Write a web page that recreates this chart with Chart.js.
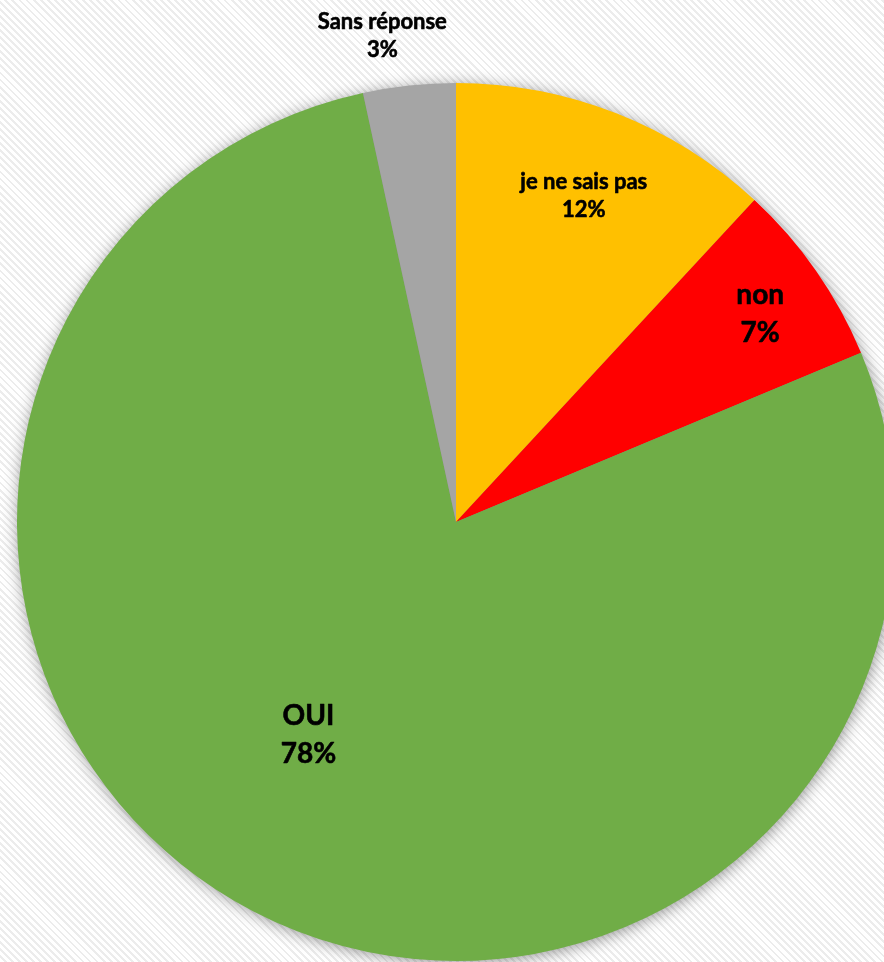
<!DOCTYPE html>
<html>
<head>
<meta charset="utf-8">
<script src="https://cdn.jsdelivr.net/npm/chart.js@4"></script>
<style>
  html, body { margin: 0; padding: 0; width: 884px; height: 962px; overflow: hidden; }
  body {
    background-color: #ffffff;
    background-image: repeating-linear-gradient(45deg, #ffffff 0px, #ffffff 3px, #ececec 3px, #ececec 5px);
  }
  #wrap { position: absolute; left: 0; top: 0; width: 900px; height: 962px; }
</style>
</head>
<body>
<div id="wrap"><canvas id="pie-chart" width="900" height="962"></canvas></div>
<script>
const labels = ["je ne sais pas", "non", "OUI", "Sans réponse"];
const values = [11.9, 6.8, 77.9, 3.4];
const percentLabels = ["12%", "7%", "78%", "3%"];
const colors = ["#FFC000", "#FF0000", "#70AD47", "#A5A5A5"];

// label placement: font size, radius fraction, angle tweak (deg), line gap
const labelStyle = [
  { size: 22, r: 0.797, da: 0, lh: 28 },
  { size: 28, r: 0.84, da: 0.5, lh: 38 },
  { size: 28, r: 0.59, da: 7.2, lh: 38 },
  { size: 22, r: 1.12, da: -2.5, lh: 28 },
];

const shadowPlugin = {
  id: "shadow",
  beforeDatasetsDraw(chart) {
    const arc = chart.getDatasetMeta(0).data[0];
    if (!arc) return;
    const { x, y, outerRadius } = arc.getProps(["x", "y", "outerRadius"], true);
    const ctx = chart.ctx;
    ctx.save();
    ctx.shadowColor = "rgba(0,0,0,0.45)";
    ctx.shadowBlur = 16;
    ctx.shadowOffsetX = 1;
    ctx.shadowOffsetY = 2;
    ctx.fillStyle = "#888";
    ctx.beginPath();
    ctx.arc(x, y, outerRadius - 1, 0, Math.PI * 2);
    ctx.fill();
    ctx.restore();
  },
};

const labelPlugin = {
  id: "sliceLabels",
  afterDatasetsDraw(chart) {
    const ctx = chart.ctx;
    chart.getDatasetMeta(0).data.forEach((arc, i) => {
      const p = arc.getProps(["x", "y", "startAngle", "endAngle", "outerRadius"], true);
      const st = labelStyle[i];
      const a = (p.startAngle + p.endAngle) / 2 + (st.da * Math.PI) / 180;
      const cx = p.x + Math.cos(a) * p.outerRadius * st.r;
      const cy = p.y + Math.sin(a) * p.outerRadius * st.r;
      ctx.save();
      ctx.fillStyle = "#000";
      ctx.strokeStyle = "#000";
      ctx.lineWidth = 0.6;
      ctx.lineJoin = "round";
      ctx.font = `bold ${st.size}px Lato, "Open Sans", sans-serif`;
      ctx.textAlign = "center";
      ctx.textBaseline = "middle";
      [[labels[i], cy - st.lh / 2], [percentLabels[i], cy + st.lh / 2]].forEach(([t, ty]) => {
        ctx.fillText(t, cx, ty);
        ctx.strokeText(t, cx, ty);
      });
      ctx.restore();
    });
  },
};

new Chart(document.getElementById("pie-chart"), {
  type: "pie",
  data: {
    labels,
    datasets: [
      {
        data: values,
        backgroundColor: colors,
        borderWidth: 0,
        hoverOffset: 0,
        offset: 0,
      },
    ],
  },
  options: {
    responsive: false,
    animation: false,
    layout: { padding: { left: 17, right: 5, top: 83, bottom: 1 } },
    plugins: {
      legend: { display: false },
      tooltip: { enabled: false },
    },
  },
  plugins: [shadowPlugin, labelPlugin],
});
</script>
</body>
</html>
